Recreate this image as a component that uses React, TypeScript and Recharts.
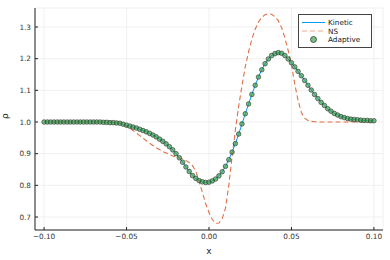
import React from 'react';
import { LineChart, Line, XAxis, YAxis, CartesianGrid, Label } from 'recharts';

const xs = [
  -0.1, -0.098, -0.096, -0.094, -0.092, -0.09, -0.088, -0.086, -0.084, -0.082,
  -0.08, -0.078, -0.076, -0.074, -0.072, -0.07, -0.068, -0.066, -0.064, -0.062,
  -0.06, -0.058, -0.056, -0.054, -0.052, -0.05, -0.048, -0.046, -0.044, -0.042,
  -0.04, -0.038, -0.036, -0.034, -0.032, -0.03, -0.028, -0.026, -0.024, -0.022,
  -0.02, -0.018, -0.016, -0.014, -0.012, -0.01, -0.008, -0.006, -0.004, -0.002,
  0, 0.002, 0.004, 0.006, 0.008, 0.01, 0.012, 0.014, 0.016, 0.018,
  0.02, 0.022, 0.024, 0.026, 0.028, 0.03, 0.032, 0.034, 0.036, 0.038,
  0.04, 0.042, 0.044, 0.046, 0.048, 0.05, 0.052, 0.054, 0.056, 0.058,
  0.06, 0.062, 0.064, 0.066, 0.068, 0.07, 0.072, 0.074, 0.076, 0.078,
  0.08, 0.082, 0.084, 0.086, 0.088, 0.09, 0.092, 0.094, 0.096, 0.098,
  0.1,
];

const kinetic = [
  1.0, 1.0, 1.0, 1.0, 1.0, 1.0, 1.0, 1.0, 1.0, 1.0,
  1.0, 1.0, 1.0, 1.0, 1.0, 1.0, 1.0, 1.0, 0.999, 0.999,
  0.998, 0.998, 0.997, 0.996, 0.993, 0.99, 0.987, 0.984, 0.981, 0.977,
  0.973, 0.969, 0.964, 0.959, 0.953, 0.946, 0.939, 0.931, 0.922, 0.912,
  0.9, 0.887, 0.873, 0.858, 0.844, 0.831, 0.822, 0.815, 0.811, 0.809,
  0.81, 0.814, 0.82, 0.83, 0.843, 0.86, 0.881, 0.905, 0.932, 0.962,
  0.994, 1.026, 1.057, 1.087, 1.116, 1.142, 1.165, 1.184, 1.199, 1.21,
  1.216, 1.219, 1.217, 1.21, 1.199, 1.187, 1.174, 1.16, 1.146, 1.131,
  1.116, 1.101, 1.087, 1.074, 1.062, 1.052, 1.042, 1.034, 1.027, 1.022,
  1.017, 1.014, 1.011, 1.009, 1.008, 1.007, 1.006, 1.005, 1.005, 1.004,
  1.004,
];

const ns = [
  1.0, 1.0, 1.0, 1.0, 1.0, 1.0, 1.0, 1.0, 1.0, 1.0,
  1.0, 1.0, 1.0, 1.0, 1.0, 1.0, 1.0, 1.0, 1.0, 1.0,
  1.0, 1.0, 0.999, 0.997, 0.992, 0.986, 0.98, 0.973, 0.965, 0.957,
  0.949, 0.941, 0.933, 0.926, 0.919, 0.913, 0.907, 0.902, 0.897, 0.893,
  0.889, 0.886, 0.883, 0.878, 0.872, 0.862, 0.845, 0.812, 0.778, 0.742,
  0.714, 0.692, 0.68, 0.681, 0.695, 0.728, 0.8, 0.89, 0.975, 1.05,
  1.115, 1.175, 1.222, 1.262, 1.293, 1.316, 1.33, 1.339, 1.342, 1.34,
  1.332, 1.32, 1.298, 1.266, 1.226, 1.18, 1.12, 1.068, 1.03, 1.012,
  1.005, 1.002, 1.001, 1.0, 1.0, 1.0, 1.0, 1.0, 1.0, 1.0,
  1.0, 1.0, 1.0, 1.0, 1.0, 1.0, 1.0, 1.0, 1.0, 1.0,
  1.0,
];

const adaptive = kinetic;

const xTicks = [-0.1, -0.05, 0, 0.05, 0.1];
const yTicks = [0.7, 0.8, 0.9, 1.0, 1.1, 1.2, 1.3];

const data = xs.map((x, i) => ({ x, kinetic: kinetic[i], ns: ns[i], adaptive: adaptive[i] }));

const FONT = '"DejaVu Sans", sans-serif';
const BLUE = '#009afa';
const ORANGE = '#e26f46';
const GREEN = '#3da44d';

const fmtX = (v: number) => (v < 0 ? '\u2212' : '') + Math.abs(v).toFixed(2);
const fmtY = (v: number) => v.toFixed(1);

const Dot = (props: any) => {
  const { cx, cy } = props;
  if (cx == null || cy == null) return null;
  return <circle cx={cx} cy={cy} r={2.3} fill={GREEN} fillOpacity={0.7} stroke="#2b2b2b" strokeWidth={0.6} />;
};

const LegendBox = () => (
  <div
    style={{
      position: 'absolute',
      left: 298,
      top: 14,
      width: 74,
      height: 34,
      border: '1px solid #444',
      background: '#fff',
      boxSizing: 'border-box',
    }}
  >
    <svg width={72} height={32} style={{ position: 'absolute', left: 0, top: 0, fontFamily: FONT }}>
      <line x1={3} x2={26} y1={7.5} y2={7.5} stroke={BLUE} strokeWidth={1} />
      <line x1={3} x2={26} y1={16} y2={16} stroke={ORANGE} strokeWidth={1} strokeDasharray="5 3" opacity={0.6} />
      <circle cx={14.5} cy={24.5} r={3} fill={GREEN} fillOpacity={0.7} stroke="#2b2b2b" strokeWidth={0.7} />
      <text x={29} y={10} fontSize={7.3} fill="#222">Kinetic</text>
      <text x={29} y={18.5} fontSize={7.3} fill="#222">NS</text>
      <text x={29} y={27} fontSize={7.3} fill="#222">Adaptive</text>
    </svg>
  </div>
);

export default function App() {
  return (
    <div style={{ position: 'absolute', left: 0, top: 0, width: 390, height: 260, background: '#fff' }}>
      <LineChart width={390} height={260} data={data} margin={{ top: 8, right: 7, left: 0, bottom: 0 }}>
        <CartesianGrid stroke="#ececec" strokeWidth={0.8} vertical horizontal />
        <XAxis
          dataKey="x"
          type="number"
          domain={[-0.1055, 0.1055]}
          ticks={xTicks}
          tickFormatter={fmtX}
          allowDataOverflow
          height={30}
          stroke="#222"
          tickSize={-3}
          tickMargin={7}
          tick={{ fontSize: 7.3, fill: '#333', fontFamily: FONT }}
        >
          <Label value="x" position="insideBottom" offset={6} style={{ fontSize: 9, fill: '#222', fontFamily: FONT }} />
        </XAxis>
        <YAxis
          type="number"
          domain={[0.659, 1.36]}
          ticks={yTicks}
          tickFormatter={fmtY}
          allowDataOverflow
          width={35}
          stroke="#222"
          tickSize={-3}
          tickMargin={7}
          tick={{ fontSize: 7.3, fill: '#333', fontFamily: FONT }}
        >
          <Label value="ρ" angle={-90} position="insideLeft" offset={5} style={{ fontSize: 9, fill: '#222', fontFamily: FONT }} />
        </YAxis>
        <Line dataKey="kinetic" stroke={BLUE} strokeWidth={1} dot={false} isAnimationActive={false} />
        <Line dataKey="ns" stroke={ORANGE} strokeWidth={1.1} strokeDasharray="5 3" dot={false} isAnimationActive={false} />
        <Line dataKey="adaptive" stroke="none" dot={<Dot />} activeDot={false} isAnimationActive={false} />
      </LineChart>
      <LegendBox />
    </div>
  );
}
